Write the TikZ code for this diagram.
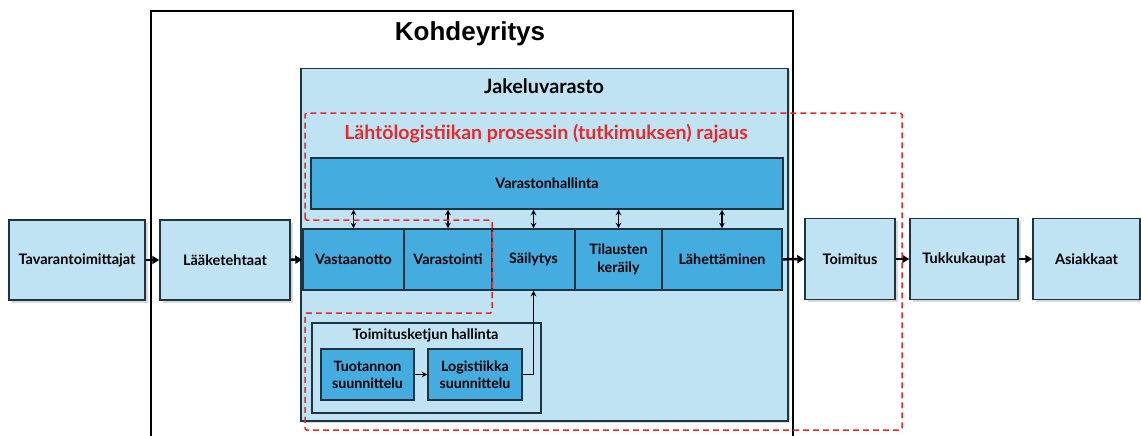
\documentclass[tikz,border=0pt]{standalone}
\usepackage{fontspec}
\setmainfont{Lato}
\newfontfamily\headfont{Liberation Sans}
\usetikzlibrary{arrows.meta,shadows}
\definecolor{paleblue}{HTML}{C0E3F4}
\definecolor{midblue}{HTML}{45ACDF}
\definecolor{edgeblue}{HTML}{1E3440}
\definecolor{scopered}{HTML}{E52A2A}
\begin{document}
\begin{tikzpicture}[x=1pt,y=-1pt,
  lightbox/.style={draw=edgeblue, line width=1.5pt, fill=paleblue,
    drop shadow={opacity=0.3, shadow xshift=2.5pt, shadow yshift=-2.5pt},
    font=\bfseries\fontsize{14.5}{17}\selectfont, align=center, inner sep=0pt},
  stagebox/.style={draw=edgeblue, line width=1.5pt, fill=midblue,
    font=\bfseries\fontsize{14.3}{17.5}\selectfont, align=center, inner sep=0pt},
  planbox/.style={stagebox, font=\bfseries\fontsize{14.2}{17}\selectfont},
  flow/.style={line width=2.5pt, -{Triangle[length=7pt,width=8pt]}},
  link/.style={line width=1.3pt, {Stealth[length=5.5pt,width=5.5pt]}-{Stealth[length=5.5pt,width=5.5pt]}},
  feed/.style={line width=1.3pt, -{Stealth[length=5.5pt,width=5.5pt]}}]
\useasboundingbox (0,0) rectangle (1141,436);

% company frame, open at the bottom
\draw[line width=2.2pt] (151,436) -- (151,11) -- (793,11) -- (793,436);
\node[font=\headfont\bfseries\fontsize{26}{30}\selectfont] (company) at (470,34) {Kohdeyritys};

% distribution warehouse
\node[lightbox, minimum width=487pt, minimum height=352pt, anchor=north west] (dc) at (300,68) {};
\node[font=\bfseries\fontsize{19.8}{22}\selectfont] (dctitle) at (544,86) {Jakeluvarasto};

% external chain
\node[lightbox, minimum width=136pt, minimum height=80pt] (supp) at (77,260) {Tavarantoimittajat};
\node[lightbox, minimum width=130pt, minimum height=80pt] (pharma) at (225,260) {Lääketehtaat};
\node[lightbox, minimum width=90pt, minimum height=81pt] (deliv) at (850,259) {Toimitus};
\node[lightbox, minimum width=108pt, minimum height=81pt] (whole) at (964,259) {Tukkukaupat};
\node[lightbox, minimum width=107pt, minimum height=81pt] (cust) at (1086.5,259) {Asiakkaat};

% warehouse management
\node[stagebox, minimum width=472pt, minimum height=51pt] (wms) at (547,183.5) {Varastonhallinta};

% warehouse process stages
\node[stagebox, minimum width=101pt, minimum height=61pt] (recv) at (353.5,259.5) {Vastaanotto};
\node[stagebox, minimum width=88pt, minimum height=61pt] (stor) at (448,259.5) {Varastointi};
\node[stagebox, minimum width=83pt, minimum height=61pt] (keep) at (533.5,259.5) {Säilytys};
\node[stagebox, minimum width=87pt, minimum height=61pt] (pick) at (618.5,259.5) {Tilausten\\keräily};
\node[stagebox, minimum width=120pt, minimum height=61pt] (ship) at (722,259.5) {Lähettäminen};

% supply chain management
\node[draw=edgeblue, line width=1.5pt, fill=paleblue, minimum width=229pt, minimum height=90pt, anchor=north west] (scm) at (311,322) {};
\node[font=\bfseries\fontsize{14.5}{17}\selectfont] (scmtitle) at (425.5,335) {Toimitusketjun hallinta};
\node[planbox, minimum width=93pt, minimum height=51pt] (prod) at (367.5,374.5) {Tuotannon\\suunnittelu};
\node[planbox, minimum width=94pt, minimum height=51pt] (logi) at (475,374.5) {Logistiikka\\suunnittelu};

% connectors
\draw[flow] (supp) -- (pharma);
\draw[flow] (pharma) -- (recv);
\draw[flow] (ship) -- (deliv);
\draw[flow] (deliv) -- (whole);
\draw[flow] (whole) -- (cust);
\foreach \s in {recv,stor,keep,pick,ship}
  \draw[link] (\s.north) -- (\s.north |- wms.south);
\draw[feed] (prod) -- (logi);
\draw[feed] (logi.east) -| (keep.south);

% scope of the outbound logistics study
\draw[scopered, line width=1.5pt, dash pattern=on 6pt off 4pt, rounded corners=1.5pt]
  (305,220) -- (305,113) -- (902,113) -- (902,430) -- (305,430) -- (305,313)
  -- (492,313) -- (492,220) -- cycle;
\node[text=scopered, font=\bfseries\fontsize{19.5}{22}\selectfont] (scopetitle) at (546,134)
  {Lähtölogistiikan prosessin (tutkimuksen) rajaus};
\end{tikzpicture}
\end{document}
